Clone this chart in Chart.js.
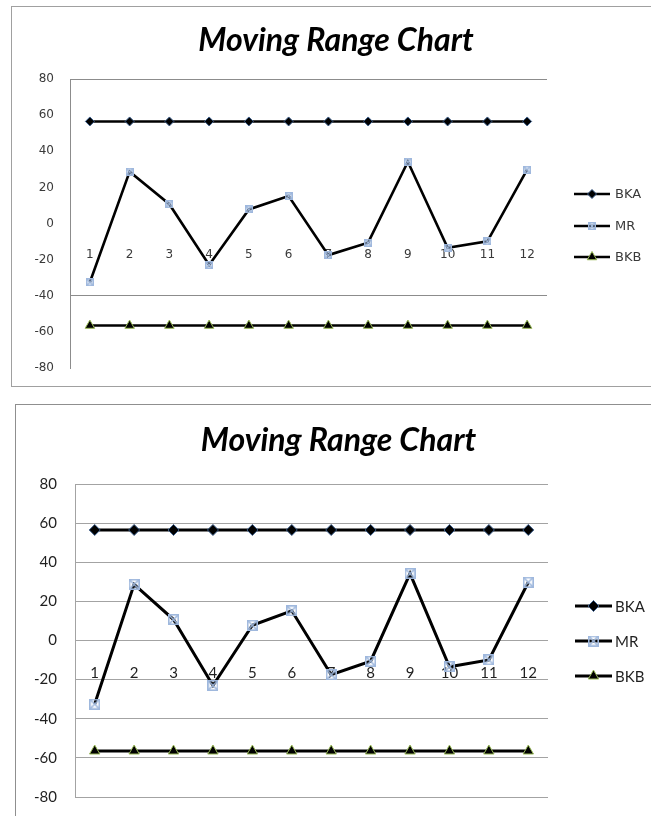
<!DOCTYPE html>
<html>
<head>
<meta charset="utf-8">
<script src="https://cdn.jsdelivr.net/npm/chart.js@4/dist/chart.umd.min.js"></script>
<style>
  html, body { margin: 0; padding: 0; background: #fff; width: 651px; height: 816px; overflow: hidden; position: relative; }
  .frame { position: absolute; background: #fff; }
  #frameA { left: 11px; top: 6px; width: 648px; height: 379px; border: 1px solid #a0a0a0; filter: blur(0.55px); }
  #frameB { left: 15px; top: 404px; width: 645px; height: 430px; border: 1px solid #8f8f8f; }
  canvas { display: block; }
</style>
</head>
<body>
<div class="frame" id="frameA"><canvas id="chartA" width="648" height="379"></canvas></div>
<div class="frame" id="frameB"><canvas id="chartB" width="645" height="411"></canvas></div>
<script>
// Moving range data: upper limit (BKA), moving range (MR), lower limit (BKB)
const categories = ['1', '2', '3', '4', '5', '6', '7', '8', '9', '10', '11', '12'];
const seriesNames = ['BKA', 'MR', 'BKB'];
const bkaValues = [56.5, 56.5, 56.5, 56.5, 56.5, 56.5, 56.5, 56.5, 56.5, 56.5, 56.5, 56.5];
const mrValues = [-32.5, 28.7, 10.7, -23.0, 7.8, 15.2, -17.5, -10.6, 34.2, -13.4, -9.9, 29.8];
const bkbValues = [-56.5, -56.5, -56.5, -56.5, -56.5, -56.5, -56.5, -56.5, -56.5, -56.5, -56.5, -56.5];
const yTicks = [80, 60, 40, 20, 0, -20, -40, -60, -80];
const chartTitle = 'Moving Range Chart';

// square-with-cross marker used for the MR series
function boxCrossMarker(size, color, lw) {
  const c = document.createElement('canvas');
  c.width = c.height = size;
  const g = c.getContext('2d');
  g.strokeStyle = color;
  g.lineWidth = lw;
  const p = lw / 2;
  g.strokeRect(p, p, size - lw, size - lw);
  g.beginPath();
  g.moveTo(p, p); g.lineTo(size - p, size - p);
  g.moveTo(size - p, p); g.lineTo(p, size - p);
  g.stroke();
  return c;
}

// legend to the right of the plot: line sample with marker, then the name
const sideLegend = {
  id: 'sideLegend',
  afterDraw(chart, args, o) {
    const { ctx, chartArea } = chart;
    const sets = chart.data.datasets;
    const cy = (chartArea.top + chartArea.bottom) / 2 + o.shift;
    sets.forEach((d, i) => {
      const y = Math.round(cy + (i - (sets.length - 1) / 2) * o.spacing);
      const x0 = chartArea.right + o.offset;
      const x1 = x0 + o.lineLength;
      ctx.save();
      ctx.strokeStyle = d.borderColor;
      ctx.lineWidth = d.borderWidth;
      ctx.beginPath();
      ctx.moveTo(x0, y); ctx.lineTo(x1, y);
      ctx.stroke();
      ctx.fillStyle = d.pointBackgroundColor;
      ctx.strokeStyle = d.pointBorderColor;
      ctx.lineWidth = d.pointBorderWidth;
      Chart.helpers.drawPoint(ctx, {
        pointStyle: d.pointStyle, radius: d.pointRadius,
        borderWidth: d.pointBorderWidth, rotation: 0
      }, (x0 + x1) / 2, y);
      ctx.fillStyle = o.color;
      ctx.font = o.font;
      ctx.textAlign = 'left';
      ctx.textBaseline = 'middle';
      ctx.fillText(d.label, chartArea.right + o.textOffset, y + 1);
      ctx.restore();
    });
  }
};

function makeChart(canvas, st) {
  const tickFont = { family: st.family, size: st.tickSize };
  return new Chart(canvas, {
    type: 'line',
    data: {
      labels: categories,
      datasets: [
        {
          label: seriesNames[0], data: bkaValues,
          borderColor: '#000', borderWidth: st.lineWidth, tension: 0,
          pointStyle: 'rectRot', pointRadius: st.diamondR,
          pointBackgroundColor: '#000', pointBorderColor: '#3b5e8c', pointBorderWidth: 1
        },
        {
          label: seriesNames[1], data: mrValues,
          borderColor: '#000', borderWidth: st.lineWidth, tension: 0,
          pointStyle: boxCrossMarker(st.crossSize, '#9fb8dd', 1.6), pointRadius: st.crossSize / 2,
          pointBackgroundColor: 'rgba(0,0,0,0)', pointBorderColor: '#9fb8dd', pointBorderWidth: 1
        },
        {
          label: seriesNames[2], data: bkbValues,
          borderColor: '#000', borderWidth: st.lineWidth, tension: 0,
          pointStyle: 'triangle', pointRadius: st.triR,
          pointBackgroundColor: '#000', pointBorderColor: '#9bbb59', pointBorderWidth: 1
        }
      ]
    },
    options: {
      responsive: false,
      animation: false,
      devicePixelRatio: 1,
      layout: { padding: { top: 0, left: 0, right: 0, bottom: st.bottomPad } },
      plugins: {
        legend: { display: false },
        tooltip: { enabled: false },
        title: {
          display: true, text: chartTitle, color: '#000',
          font: { family: st.titleFamily, size: st.titleSize, weight: 'bold', style: 'italic', lineHeight: 1.2 },
          padding: st.titlePad
        },
        sideLegend: {
          spacing: st.legendSpacing, offset: 27, lineLength: st.legendLine, shift: st.legendShift,
          textOffset: st.legendText, color: st.textColor,
          font: st.legendSize + 'px ' + st.family
        }
      },
      scales: {
        x: {
          type: 'category',
          offset: true,
          position: { y: 0 },
          // labels hang below the zero line, so the axis needs no room of its own
          afterFit: (s) => { s.height = 0; },
          grid: { display: false, drawTicks: false, offset: true },
          border: { display: false },
          ticks: { padding: st.xPad, font: tickFont, color: st.textColor, maxRotation: 0, autoSkip: false }
        },
        y: {
          type: 'linear',
          min: yTicks[yTicks.length - 1], max: yTicks[0],
          afterBuildTicks: (s) => { s.ticks = yTicks.map(v => ({ value: v })); },
          afterFit: (s) => { s.width = st.yWidth; },
          // invisible tick marks keep the labels clear of the axis line
          grid: { color: st.gridColor, lineWidth: 1, drawTicks: true, tickLength: st.yGap, tickColor: 'rgba(0,0,0,0)' },
          border: { display: true, color: st.axisColor, width: 1 },
          ticks: { padding: 0, font: tickFont, color: st.textColor }
        },
        gap: {
          type: 'linear', position: 'right', display: true,
          afterFit: (s) => { s.width = st.rightGap; },
          grid: { display: false, drawTicks: false },
          border: { display: false },
          ticks: { display: false }
        }
      }
    },
    plugins: [sideLegend]
  });
}

// upper panel
makeChart(document.getElementById('chartA'), {
  family: '"DejaVu Sans", sans-serif', titleFamily: 'Lato, sans-serif',
  tickSize: 12, legendSize: 13, titleSize: 32, textColor: '#3a3a3a',
  titlePad: { top: 14, bottom: 19.6 },
  lineWidth: 2.6, diamondR: 4.5, crossSize: 8, triR: 5.5,
  gridColor: (c) => (c.tick && (c.tick.value === 80 || c.tick.value === -40)) ? '#8c8c8c' : 'rgba(0,0,0,0)',
  axisColor: '#8c8c8c',
  yWidth: 58, yGap: 16, xPad: 24, rightGap: 113, bottomPad: 18,
  legendSpacing: 31.5, legendLine: 36, legendText: 68, legendShift: 2
});

// lower panel
makeChart(document.getElementById('chartB'), {
  family: 'Lato, sans-serif', titleFamily: 'Lato, sans-serif',
  tickSize: 15, legendSize: 15, titleSize: 32, textColor: '#1f1f1f',
  titlePad: { top: 16, bottom: 24.6 },
  lineWidth: 3, diamondR: 5.5, crossSize: 11, triR: 6,
  gridColor: '#a3a3a3', axisColor: '#a3a3a3',
  yWidth: 59, yGap: 18, xPad: 24, rightGap: 113, bottomPad: 19,
  legendSpacing: 35, legendLine: 37, legendText: 67, legendShift: 0
});
</script>
</body>
</html>
